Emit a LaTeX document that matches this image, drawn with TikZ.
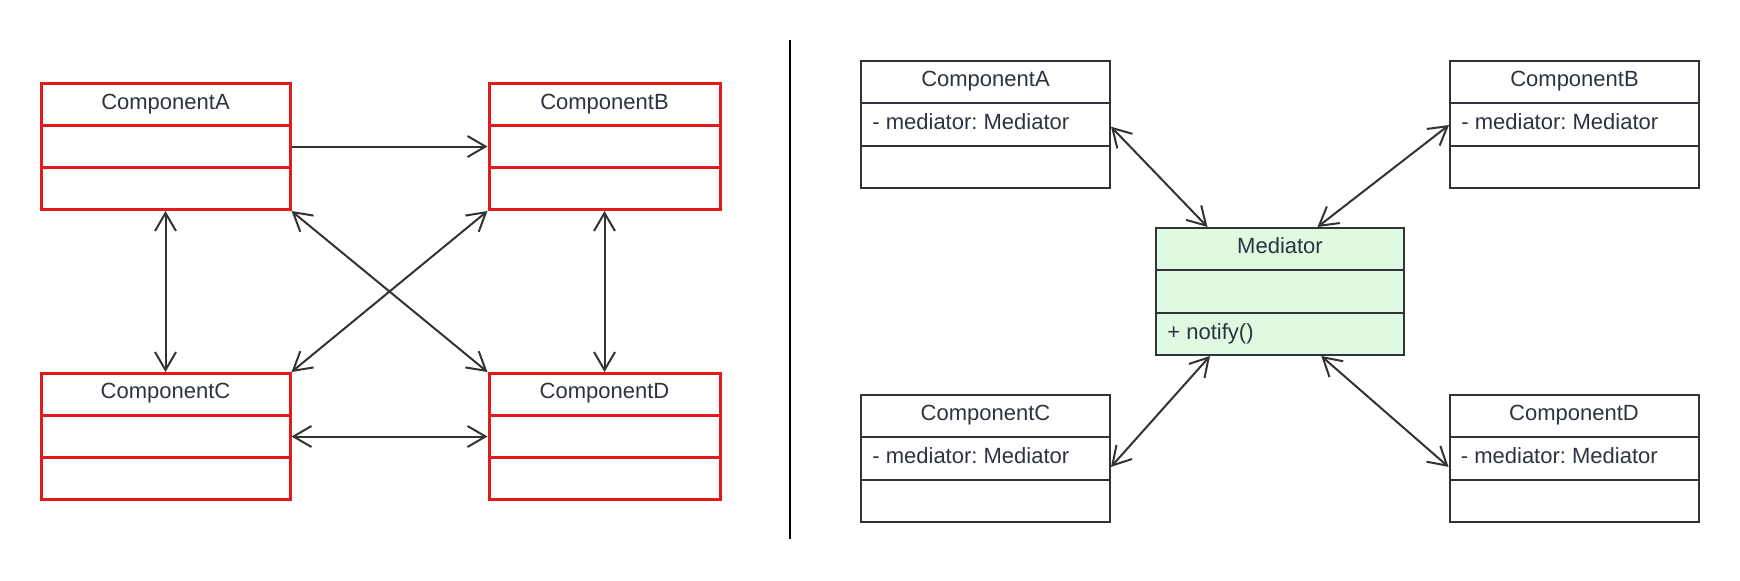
\documentclass[tikz,border=0pt]{standalone}
\usepackage{fontspec}
\setmainfont{Liberation Sans}
\usetikzlibrary{arrows.meta,calc}
\definecolor{redc}{HTML}{E31A1C}
\definecolor{boxc}{HTML}{2F343B}
\definecolor{arrc}{HTML}{333333}
\definecolor{textc}{HTML}{2D3440}
\definecolor{medfill}{HTML}{E0F9E1}
\frenchspacing
\tikzset{
  reddivs/.style={path picture={
    \draw[redc, line width=1.5pt]
      ($(path picture bounding box.north west)!1/3!(path picture bounding box.south west)$) --
      ($(path picture bounding box.north east)!1/3!(path picture bounding box.south east)$);
    \draw[redc, line width=1.5pt]
      ($(path picture bounding box.north west)!2/3!(path picture bounding box.south west)$) --
      ($(path picture bounding box.north east)!2/3!(path picture bounding box.south east)$);
  }},
  darkdivs/.style={path picture={
    \draw[boxc, line width=1pt]
      ($(path picture bounding box.north west)!1/3!(path picture bounding box.south west)$) --
      ($(path picture bounding box.north east)!1/3!(path picture bounding box.south east)$);
    \draw[boxc, line width=1pt]
      ($(path picture bounding box.north west)!2/3!(path picture bounding box.south west)$) --
      ($(path picture bounding box.north east)!2/3!(path picture bounding box.south east)$);
  }},
  redbox/.style={rectangle, draw=redc, line width=1.5pt, fill=white, inner sep=0pt,
    minimum height=63pt, reddivs},
  darkbox/.style={rectangle, draw=boxc, line width=1pt, fill=white, inner sep=0pt,
    minimum height=63.5pt, darkdivs},
  medbox/.style={darkbox, fill=medfill},
  head/.style={text=textc, inner sep=0pt, anchor=base},
  attr/.style={text=textc, inner sep=0pt, anchor=base west},
  tipb/.tip={Straight Barb[length=9pt,width=10.5pt]},
  conn/.style={draw=arrc, line width=1pt},
  both/.style={conn, tipb-tipb},
  single/.style={conn, -tipb},
}
\begin{document}
\begin{tikzpicture}[x=0.5pt,y=-0.5pt, font=\fontsize{11}{13}\selectfont]
\useasboundingbox[fill=white] (0,0) rectangle (1740,580);

% ---- left: direct coupling ----
\node[redbox, minimum width=124.5pt] (lA) at (165.5,146.5) {};
\node[redbox, minimum width=115.5pt] (lB) at (604.5,146.5) {};
\node[redbox, minimum width=124.5pt] (lC) at (165.5,436.5) {};
\node[redbox, minimum width=115.5pt] (lD) at (604.5,436.5) {};
\node[head] (lAt) at (165.5,109) {ComponentA};
\node[head] (lBt) at (604.5,109) {ComponentB};
\node[head] (lCt) at (165.5,398.5) {ComponentC};
\node[head] (lDt) at (604.5,398.5) {ComponentD};

\draw[single] (lA.east) -- (lB.west);
\draw[both] (lA.south) -- (lC.north);
\draw[both] (lA.south east) -- (lD.north west);
\draw[both] (lB.south west) -- (lC.north east);
\draw[both] (lB.south) -- (lD.north);
\draw[both] (lC.east) -- (lD.west);

% ---- separator ----
\coordinate (sepT) at (790,40);
\coordinate (sepB) at (790,539);
\draw[black, line width=1.1pt] (sepT) -- (sepB);

% ---- right: mediator ----
\node[darkbox, minimum width=124.5pt] (rA) at (985.5,124.5) {};
\node[darkbox, minimum width=124.5pt] (rB) at (1574.5,124.5) {};
\node[darkbox, minimum width=124.5pt] (rC) at (985.5,458.5) {};
\node[darkbox, minimum width=124.5pt] (rD) at (1574,458.5) {};
\node[medbox, minimum width=124pt] (M) at (1280,291.5) {};

\node[head] (rAt) at (985.5,86.5) {ComponentA};
\node[attr] (rAa) at (872,129.5) {- mediator: Mediator};
\node[head] (rBt) at (1574.5,86.5) {ComponentB};
\node[attr] (rBa) at (1461,129.5) {- mediator: Mediator};
\node[head] (rCt) at (985.5,420.5) {ComponentC};
\node[attr] (rCa) at (872,463) {- mediator: Mediator};
\node[head] (rDt) at (1574,420.5) {ComponentD};
\node[attr] (rDa) at (1460.5,463) {- mediator: Mediator};
\node[head] (Mt) at (1280,253.5) {Mediator};
\node[attr] (Ma) at (1167,339) {+ notify()};

\draw[both] ($(rA.north east)!0.517!(rA.south east)$) -- ($(M.north west)!0.21!(M.north east)$);
\draw[both] ($(rB.north west)!0.504!(rB.south west)$) -- ($(M.north west)!0.65!(M.north east)$);
\draw[both] ($(rC.north east)!0.565!(rC.south east)$) -- ($(M.south west)!0.22!(M.south east)$);
\draw[both] ($(rD.north west)!0.565!(rD.south west)$) -- ($(M.south west)!0.665!(M.south east)$);
\end{tikzpicture}
\end{document}
